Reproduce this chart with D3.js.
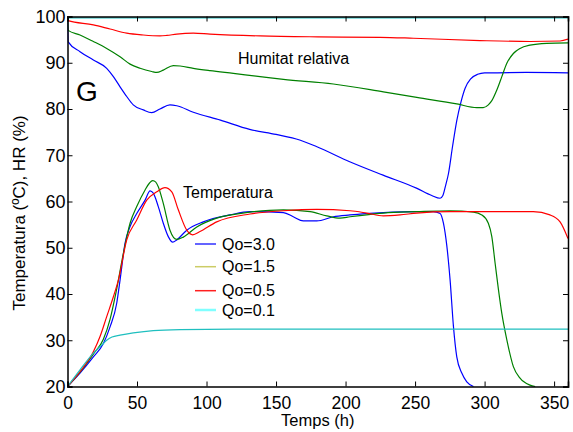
<!DOCTYPE html>
<html>
<head>
<meta charset="utf-8">
<script src="https://cdn.jsdelivr.net/npm/d3@7/dist/d3.min.js"></script>
<style>
  body { margin: 0; background: #fff; }
  svg text { font-family: "Liberation Sans", Arial, sans-serif; fill: #000; }
</style>
</head>
<body>
<svg id="chart" width="573" height="432"></svg>
<script>
// --- data: [time (h), value] ---
const xTicks = [0, 50, 100, 150, 200, 250, 300, 350];
const yTicks = [20, 30, 40, 50, 60, 70, 80, 90, 100];

const qoLabels = ["Qo=3.0", "Qo=1.5", "Qo=0.5", "Qo=0.1"];

// relative humidity
const hr30 = [[0,100],[0.5,94.5],[9,92.4],[18.6,90.6],[28.2,88.8],[33,87],[37.8,84.8],[42.6,82.7],[47.3,80.9],[54.5,79.8],[60.6,79.2],[66.5,80],[73.7,80.9],[78.6,80.7],[90.5,79.3],[110,77.6],[131,75.6],[150,74.5],[167,73.3],[179,71.9],[203,68.6],[227,65.7],[251,62.9],[262,61.3],[268,60.7],[270,61.3],[272,63.5],[274,66],[277,72],[280,77.5],[283,81.5],[286,84.5],[290,86.5],[295,87.5],[300,87.8],[330,87.9],[360,87.8]];
const hr15 = [[0,100],[0.5,97],[9,96],[18.6,94.6],[28.2,93.1],[37.8,91.3],[45,89.7],[52.2,88.8],[60.6,88.1],[64.2,87.9],[68.9,88.4],[76.1,89.4],[81,89.3],[90.5,88.8],[102.5,88.3],[119.3,87.7],[138.5,87],[155.3,86.4],[191.2,85.4],[227.2,83.7],[251.2,82.5],[280,81.1],[294.4,80.3],[299,80.3],[302.7,80.9],[305.2,81.8],[308.8,84.1],[312.4,87],[316,89.9],[320.7,92],[325.5,93.1],[332.7,93.8],[344.7,94.2],[360,94.3]];
const hr05 = [[0,100],[0.5,99.1],[18.6,98.2],[30.6,97.3],[42.6,96.4],[54.5,96],[66.5,95.8],[71.4,95.9],[78.6,96.2],[90.5,96.4],[102.5,96.2],[138.5,95.8],[180,95.6],[224.8,95.5],[248.8,95.3],[296.8,94.8],[332.7,94.6],[354.3,94.7],[360,95.1]];
const hr01 = [[0,99.7],[360,99.7]];

// temperature
const temp30 = [[0,20],[9,22.9],[18.6,26.4],[25.8,29.3],[30.6,32.9],[35.4,38],[37.8,43],[41.4,51],[45,54.6],[49.8,57.4],[55.8,60.3],[59.4,62.3],[61.7,61.8],[65.3,58.9],[68.9,55.3],[72.5,52.4],[75.7,51.2],[78.6,51.7],[85.8,53.8],[97.7,55.6],[116.9,57.1],[131.3,57.8],[155.3,57.6],[162.4,56.7],[169.6,55.8],[179.3,55.8],[191.2,56.7],[203.2,57.1],[227.2,57.6],[251.2,57.8],[263,57.8],[268,57.4],[270.4,55.3],[272.8,50.5],[275.2,43],[277.6,33],[280,26.4],[283.6,22.9],[287.2,21],[292,20]];
const temp15 = [[0,20],[9,23.1],[18.6,27],[25.8,30.2],[30.6,34.5],[35,40.5],[40,48.5],[45,55.3],[49.8,58.9],[55.8,62.5],[59,64],[61.3,64.5],[63.5,64.2],[65.3,63.2],[68.9,59.6],[73.7,53.8],[78.6,51.8],[83.3,52.3],[93,54.5],[107.3,56.4],[131.3,57.7],[155.3,58.2],[174.5,57.8],[186.5,56.9],[196,56.4],[203.2,56.7],[227.2,57.5],[251.2,57.8],[275.2,58],[292,57.7],[298,57.1],[302.7,55.3],[305.2,52.4],[307.6,46.6],[310,40.9],[312.4,35.8],[316,30.1],[320.7,24.3],[325.5,21.8],[332.7,20.3],[336.4,20]];
const temp05 = [[0,20],[9,23.2],[18.6,27.5],[23.4,30.8],[28.2,35.1],[33,39.4],[36.6,43],[42.6,51.7],[49.8,56],[57,60.3],[64.2,62.1],[70.1,63],[75,62.1],[79.7,58.2],[85.8,53.8],[90,52.8],[95.3,53.5],[107.3,55.6],[131.3,57.3],[155.3,58],[179.3,58.3],[203.2,58],[215.2,57.5],[227.2,56.9],[239.2,57.1],[251.2,57.5],[275.2,57.8],[311,57.8],[335,57.8],[347,57.1],[354.3,55.6],[360,52]];
const temp01 = [[0,20],[9,23.6],[18.6,27.2],[25.8,29.3],[28.2,30],[32,30.7],[37.8,31.1],[47.3,31.6],[61.7,32.1],[81,32.3],[120,32.4],[360,32.4]];

const lineColors = ["#0000ff", "#008000", "#ff0000", "#1fbfbf"];
// the legend swatches do not match the plotted lines exactly (as in the original figure)
const legendColors = ["#3030ff", "#cccc66", "#ff2020", "#80ffff"];

const svg = d3.select("#chart");
const margin = { left: 67.5, right: 5, top: 16.5, bottom: 45.5 };
const width = 573, height = 432;

const x = d3.scaleLinear().domain([0, 360]).range([margin.left, width - margin.right]);
const y = d3.scaleLinear().domain([20, 100]).range([height - margin.bottom, margin.top]);

svg.append("defs").append("clipPath").attr("id", "plot-clip")
  .append("rect")
  .attr("x", x(0)).attr("y", y(100) - 1)
  .attr("width", x(360) - x(0)).attr("height", y(20) - y(100) + 2);

const line = d3.line().x(d => x(d[0])).y(d => y(d[1])).curve(d3.curveMonotoneX);

const series = [
  { data: hr30, c: 0 }, { data: hr15, c: 1 }, { data: hr05, c: 2 }, { data: hr01, c: 3 },
  { data: temp30, c: 0 }, { data: temp15, c: 1 }, { data: temp05, c: 2 }, { data: temp01, c: 3 }
];

const plot = svg.append("g").attr("clip-path", "url(#plot-clip)");
plot.selectAll("path").data(series).enter().append("path")
  .attr("d", d => line(d.data))
  .attr("fill", "none")
  .attr("stroke", d => lineColors[d.c])
  .attr("stroke-width", 1.2);

// axes: MATLAB-like box with ticks pointing inwards
const tickLen = 5;
const axisBottom = d3.axisBottom(x).tickValues(xTicks).tickSize(-tickLen).tickPadding(8).tickFormat(d3.format("d"));
const axisTop = d3.axisTop(x).tickValues(xTicks).tickSize(-tickLen).tickFormat("");
const axisLeft = d3.axisLeft(y).tickValues(yTicks).tickSize(-tickLen).tickPadding(2).tickFormat(d3.format("d"));
const axisRight = d3.axisRight(y).tickValues(yTicks).tickSize(-tickLen).tickFormat("");

function styleAxis(g) {
  g.select(".domain").attr("stroke", "#000").attr("stroke-width", 1.5);
  g.selectAll(".tick line").attr("stroke", "#000").attr("stroke-width", 1);
  g.selectAll(".tick text").style("font-size", "18px").attr("fill", "#000");
}

const gx = svg.append("g").attr("transform", `translate(0,${y(20)})`).call(axisBottom).call(styleAxis);
gx.selectAll(".tick text").style("font-size", "17.5px").attr("y", null).attr("dy", null)
  .attr("transform", null).attr("y", 22);
svg.append("g").attr("transform", `translate(0,${y(100)})`).call(axisTop).call(styleAxis);
svg.append("g").attr("transform", `translate(${x(0)},0)`).call(axisLeft).call(styleAxis);
svg.append("g").attr("transform", `translate(${x(360)},0)`).call(axisRight).call(styleAxis);

// axis titles
svg.append("text")
  .attr("x", (x(0) + x(360)) / 2).attr("y", 426)
  .attr("text-anchor", "middle")
  .style("font-size", "16.5px")
  .text("Temps (h)");

svg.append("text")
  .attr("transform", `translate(25,${213}) rotate(-90)`)
  .attr("text-anchor", "middle")
  .style("font-size", "17px")
  .text("Temperatura (ºC), HR (%)");

// annotations
svg.append("text").attr("x", 76).attr("y", 101).style("font-size", "28px").text("G");
svg.append("text").attr("x", 238).attr("y", 64).style("font-size", "16px").text("Humitat relativa");
svg.append("text").attr("x", 183).attr("y", 198).style("font-size", "16px").text("Temperatura");

// legend (no box)
const legend = svg.append("g").attr("transform", "translate(195,244)");
const rows = legend.selectAll("g").data(qoLabels).enter().append("g")
  .attr("transform", (d, i) => `translate(0,${[0, 22.7, 46.7, 66][i]})`);
rows.append("line")
  .attr("x1", 0).attr("x2", 21).attr("y1", 0).attr("y2", 0)
  .attr("stroke", (d, i) => legendColors[i])
  .attr("stroke-width", (d, i) => i === 3 ? 2.5 : 1.5);
rows.append("text")
  .attr("x", 27).attr("y", 0).attr("dy", "0.36em")
  .style("font-size", "16px")
  .text(d => d);
</script>
</body>
</html>
